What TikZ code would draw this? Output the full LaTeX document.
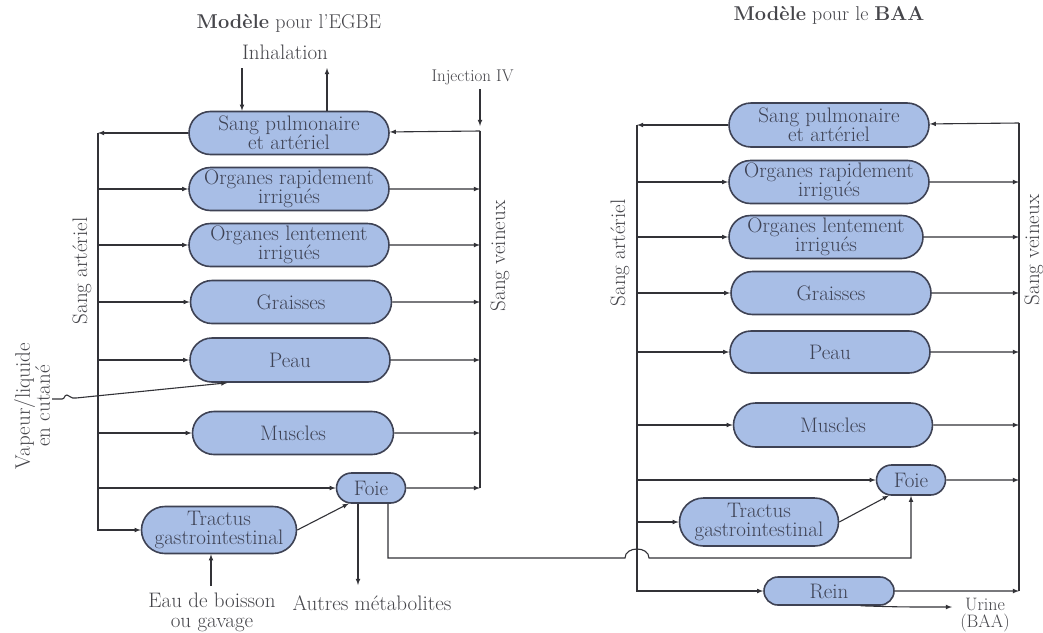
\documentclass[tikz,border=0pt]{standalone}
\usepackage{tikz}
\usetikzlibrary{calc}
\usetikzlibrary{positioning}
\usetikzlibrary{shapes.misc}
\usetikzlibrary{arrows}

\definecolor{bleuorg}{RGB}{168,190,230}
\definecolor{bordorg}{RGB}{62,66,84}
\definecolor{trait}{RGB}{50,50,55}
\definecolor{texte}{RGB}{70,70,75}

\tikzset{
  organe/.style={rounded rectangle, draw=bordorg, fill=bleuorg, line width=1.6pt,
    inner sep=1pt, align=center, text=bordorg,
    font=\fontsize{21}{19}\selectfont},
  fleche/.style={-latex, draw=trait, line width=1.1pt},
  ligne/.style={draw=trait, line width=1.1pt},
  etiq/.style={text=texte, align=center, font=\fontsize{21}{20}\selectfont},
}

\begin{document}
\begin{tikzpicture}[x=1pt,y=-1pt]
 \fill[white] (0,0) rectangle (1043,632);
 \useasboundingbox (0,0) rectangle (1043,632);

 % modele pour l'EGBE
 \node[etiq, font=\fontsize{20}{20}\selectfont] (titreg) at (289,23) {\textbf{Modèle} pour l'EGBE};
 \node[etiq] (inhal) at (285,52) {Inhalation};
 \node[etiq, anchor=west, font=\fontsize{17}{17}\selectfont] (inj) at (428,77) {Injection IV};
 \node[organe, minimum width=202, minimum height=43] (spg) at (289,133) {Sang pulmonaire\\et artériel};
 \node[organe, minimum width=202, minimum height=43] (rapg) at (289,189) {Organes rapidement\\irrigués};
 \node[organe, minimum width=202, minimum height=43] (lentg) at (289,245) {Organes lentement\\irrigués};
 \node[organe, minimum width=203, minimum height=43] (graig) at (291,302) {Graisses};
 \node[organe, minimum width=202, minimum height=44] (peaug) at (290,360) {Peau};
 \node[organe, minimum width=203, minimum height=43] (muscg) at (293,433) {Muscles};
 \node[organe, minimum width=71, minimum height=30] (foieg) at (371,488) {Foie};
 \node[organe, minimum width=157, minimum height=47] (tractg) at (219,530) {Tractus\\gastrointestinal};
 \node[etiq, rotate=90] (sartg) at (82,271) {Sang artériel};
 \node[etiq, rotate=90] (sveng) at (500,256) {Sang veineux};
 \node[etiq, rotate=90] (vapeur) at (32,406) {Vapeur/liquide\\en cutané};
 \node[etiq] (eau) at (212,612) {Eau de boisson\\ou gavage};
 \node[etiq] (autres) at (372,603) {Autres métabolites};

 \coordinate (artg) at (98,133);
 \coordinate (veng) at (480,131);
 \coordinate (injg) at (480,89);
 \coordinate (injfin) at (480,126);
 \coordinate (inhin) at (242,68);
 \coordinate (inhout) at (327,68);
 \coordinate (eaug) at (211,586);
 \coordinate (autg) at (358,585);
 \coordinate (pont) at (388,558);
 \coordinate (saut) at (637,558);
 \coordinate (cut) at (76,398);

 \draw[fleche] (inhin) -- (inhin |- spg.north);
 \draw[fleche] (inhout |- spg.north) -- (inhout);
 \draw[fleche] (injg) -- (injfin);
 \draw[fleche] (veng) -- (spg);
 \draw[fleche] (spg) -- (artg);
 \draw[fleche] (artg) -- (artg |- tractg) -- (tractg);
 \foreach \n in {rapg,lentg,graig,peaug,muscg,foieg}
   \draw[fleche] (artg |- \n) -- (\n);
 \foreach \n in {rapg,lentg,graig,peaug,muscg,foieg}
   \draw[fleche] (\n) -- (veng |- \n);
 \draw[ligne] (veng |- foieg) -- (veng);
 \draw[fleche] (tractg.east) -- (foieg.215);
 \draw[fleche] (eaug) -- (eaug |- tractg.south);
 \draw[fleche] (foieg.south -| autg) -- (autg);
 % peau
 \draw[ligne] (52,399) -- (62,399) .. controls (65,399) and (64,395) .. (67,395)
   .. controls (70,395) and (70,399) .. (cut);
 \draw[fleche] (cut) -- (peaug.200);

 % modele pour le BAA
 \node[etiq, font=\fontsize{20}{20}\selectfont] (titred) at (829,15) {\textbf{Modèle} pour le \textbf{BAA}};
 \node[organe, minimum width=202, minimum height=44] (spd) at (829,125) {Sang pulmonaire\\et artériel};
 \node[organe, minimum width=202, minimum height=43] (rapd) at (829,182) {Organes rapidement\\irrigués};
 \node[organe, minimum width=196, minimum height=43] (lentd) at (826,237) {Organes lentement\\irrigués};
 \node[organe, minimum width=202, minimum height=43] (graid) at (831,293) {Graisses};
 \node[organe, minimum width=202, minimum height=42] (peaud) at (830,352) {Peau};
 \node[organe, minimum width=201, minimum height=44] (muscd) at (833,425) {Muscles};
 \node[organe, minimum width=71, minimum height=30] (foied) at (911,480) {Foie};
 \node[organe, minimum width=161, minimum height=48] (tractd) at (759,522) {Tractus\\gastrointestinal};
 \node[organe, minimum width=132, minimum height=28] (reind) at (829,591) {Rein};
 \node[etiq, rotate=90] (sartd) at (620,253) {Sang artériel};
 \node[etiq, rotate=90] (svend) at (1034,250) {Sang veineux};
 \node[etiq, font=\fontsize{18}{17}\selectfont] (urine) at (985,615) {Urine\\(BAA)};

 \coordinate (artd) at (637,125);
 \coordinate (vend) at (1019,123);
 \coordinate (urfin) at (952,607);

 \draw[fleche] (vend) -- (spd);
 \draw[fleche] (spd) -- (artd);
 \draw[fleche] (artd) -- (artd |- reind) -- (reind);
 \foreach \n in {rapd,lentd,graid,peaud,muscd,foied,tractd}
   \draw[fleche] (artd |- \n) -- (\n);
 \foreach \n in {rapd,lentd,graid,peaud,muscd,foied,reind}
   \draw[fleche] (\n) -- (vend |- \n);
 \draw[ligne] (vend |- reind) -- (vend);
 \draw[fleche] (tractd.east) -- (foied.215);
 \draw[fleche] (reind.-25) .. controls (900,607) .. (urfin);
 % foie -> foie
 \draw[fleche] (foieg.south -| pont) -- (pont) -- ($(saut)+(-12,0)$)
   .. controls ($(saut)+(-12,-12)$) and ($(saut)+(12,-12)$) .. ($(saut)+(12,0)$)
   -- (foied.south |- saut) -- (foied.south);
\end{tikzpicture}
\end{document}
